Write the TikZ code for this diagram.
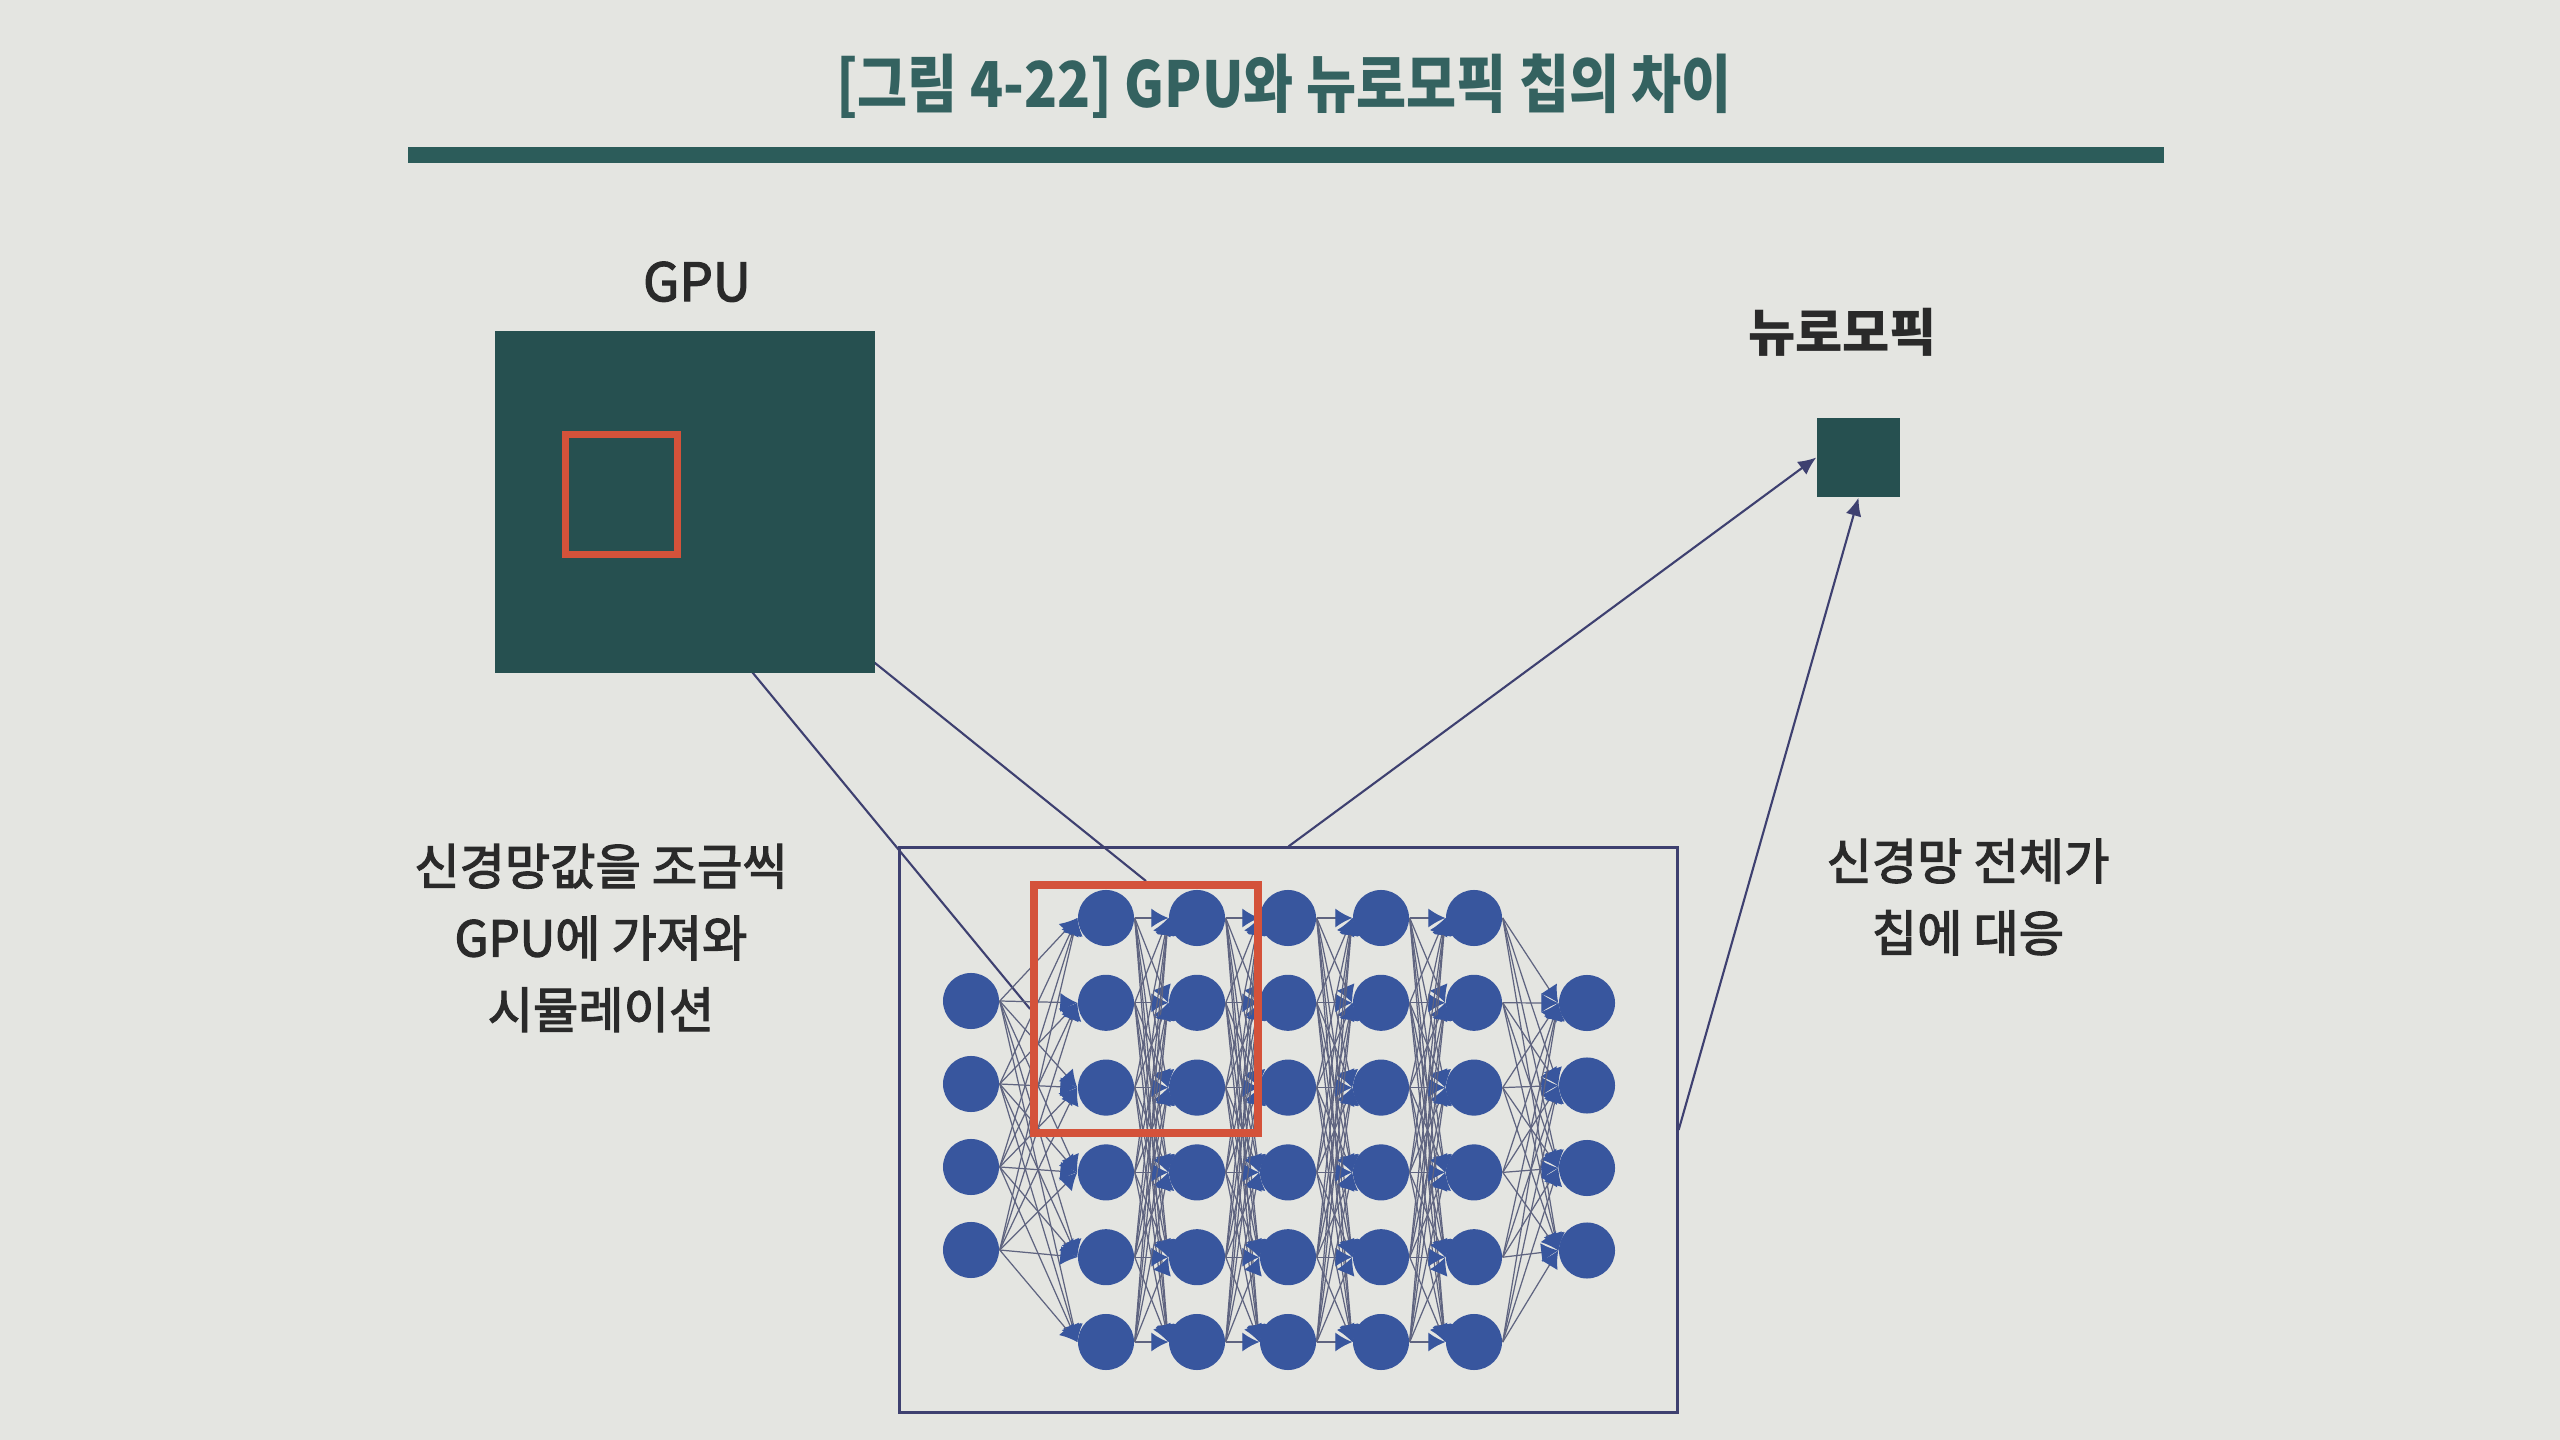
\documentclass[tikz,border=0pt]{standalone}
\usepackage{fontspec}
\setmainfont{Noto Sans CJK KR}
\newfontfamily\titlefont{Noto Sans CJK KR}[FakeStretch=0.86]
\newfontfamily\medfont{Noto Sans CJK KR}[FakeBold=2.5]
\usepackage{tikz}
\usetikzlibrary{arrows.meta, calc, positioning}
\pgfdeclarelayer{back}
\pgfsetlayers{back,main}

\definecolor{paper}{RGB}{228,229,225}
\definecolor{chipteal}{RGB}{38,80,80}
\definecolor{barteal}{RGB}{44,92,90}
\definecolor{titleteal}{RGB}{52,98,96}
\definecolor{gpured}{RGB}{212,82,58}
\definecolor{neuronblue}{RGB}{56,86,158}
\definecolor{synapse}{RGB}{95,100,128}
\definecolor{framenavy}{RGB}{62,64,112}
\definecolor{inkgray}{RGB}{42,42,42}

\begin{document}
\begin{tikzpicture}[
          x=0.01cm, y=-0.01cm,
          >={Latex[length=2.0mm]},
          chip/.style={fill=chipteal, inner sep=0pt},
          redframe/.style={draw=gpured, line width=2.2pt, inner sep=0pt},
          neuron/.style={circle, fill=neuronblue, minimum size=0.56cm, inner sep=0pt},
          syn/.style={draw=synapse, line width=0.35pt,
                      -{Latex[length=1.7mm, width=1.9mm, color=neuronblue]}},
          link/.style={draw=framenavy, line width=0.6pt},
          lab/.style={text=inkgray, font=\medfont\fontsize{14}{20.4}\selectfont, align=center},
        ]

        % page and margins
        \useasboundingbox (0,0) rectangle (2560,1440);
        \begin{pgfonlayer}{back}
          \fill[paper] (0,0) rectangle (2560,1440);
        \end{pgfonlayer}

        % --- caption ---
        \node[text=titleteal, font=\titlefont\bfseries\fontsize{18}{20}\selectfont]
          (title) at (1284,86) {[그림 4-22] GPU와 뉴로모픽 칩의 차이};
        \fill[barteal] (408,147) rectangle (2164,163);

        % --- GPU chip with the part of the network it holds ---
        \node[chip, minimum width=3.80cm, minimum height=3.42cm] (gpu) at (685,502) {};
        \node[redframe, minimum width=1.12cm, minimum height=1.20cm] (gpured) at (621.5,494.5) {};
        \node[text=inkgray, font=\medfont\fontsize{15}{18}\selectfont, above=0.16cm of gpu, xshift=0.12cm] (gpulab) {GPU};

        % --- neuromorphic chip ---
        \node[chip, minimum width=0.83cm, minimum height=0.79cm] (neuro) at (1858.5,457.5) {};
        \node[text=inkgray, font=\bfseries\fontsize{14.6}{17}\selectfont, above=0.48cm of neuro, xshift=-0.16cm] (neurolab) {뉴로모픽};

        % --- neural network ---
        \node[draw=framenavy, line width=0.8pt, minimum width=7.77cm, minimum height=5.64cm] (net) at (1288.5,1130) {};

        % input layer (4) and output layer (4)
        \foreach \r in {1,...,4} {
          \node[neuron] (in-\r) at (971,{1001+83*(\r-1)}) {};
          \node[neuron] (out-\r) at (1587,{1003+82.5*(\r-1)}) {};
        }
        % hidden layers (5 x 6)
        \foreach \c/\xx in {1/1106, 2/1197, 3/1288, 4/1381, 5/1474} {
          \foreach \r in {1,...,6}
            \node[neuron] (h\c-\r) at (\xx,{918+84.8*(\r-1)}) {};
        }

        % synapses
        \foreach \i in {1,...,4}
          \foreach \j in {1,...,6}
            \draw[syn] (in-\i.east) -- (h1-\j.west);
        \foreach \c [evaluate=\c as \n using int(\c+1)] in {1,...,4}
          \foreach \i in {1,...,6}
            \foreach \j in {1,...,6}
              \draw[syn] (h\c-\i.east) -- (h\n-\j.west);
        \foreach \i in {1,...,6}
          \foreach \j in {1,...,4}
            \draw[syn] (h5-\i.east) -- (out-\j.west);

        % slice of the network that is simulated on the GPU
        \node[redframe, minimum width=2.24cm, minimum height=2.48cm] (netred) at (1146,1009) {};

        % --- mapping lines (hidden under the GPU die) ---
        \begin{pgfonlayer}{back}
          \draw[link] (gpured.-60) -- (netred.west);
          \draw[link] (gpured.-12) -- (netred.north);
        \end{pgfonlayer}
        \draw[link, ->, >={Latex[length=1.8mm, width=1.6mm]}] (net.north) -- (neuro.west);
        \draw[link, ->, >={Latex[length=1.8mm, width=1.6mm]}] (net.east) -- (neuro.south);

        % --- notes ---
        \node[lab] (gpunote) at (601,938) {신경망값을 조금씩\\GPU에 가져와\\시뮬레이션};
        \node[lab] (neuronote) at (1968,897) {신경망 전체가\\칩에 대응};

\end{tikzpicture}
\end{document}
